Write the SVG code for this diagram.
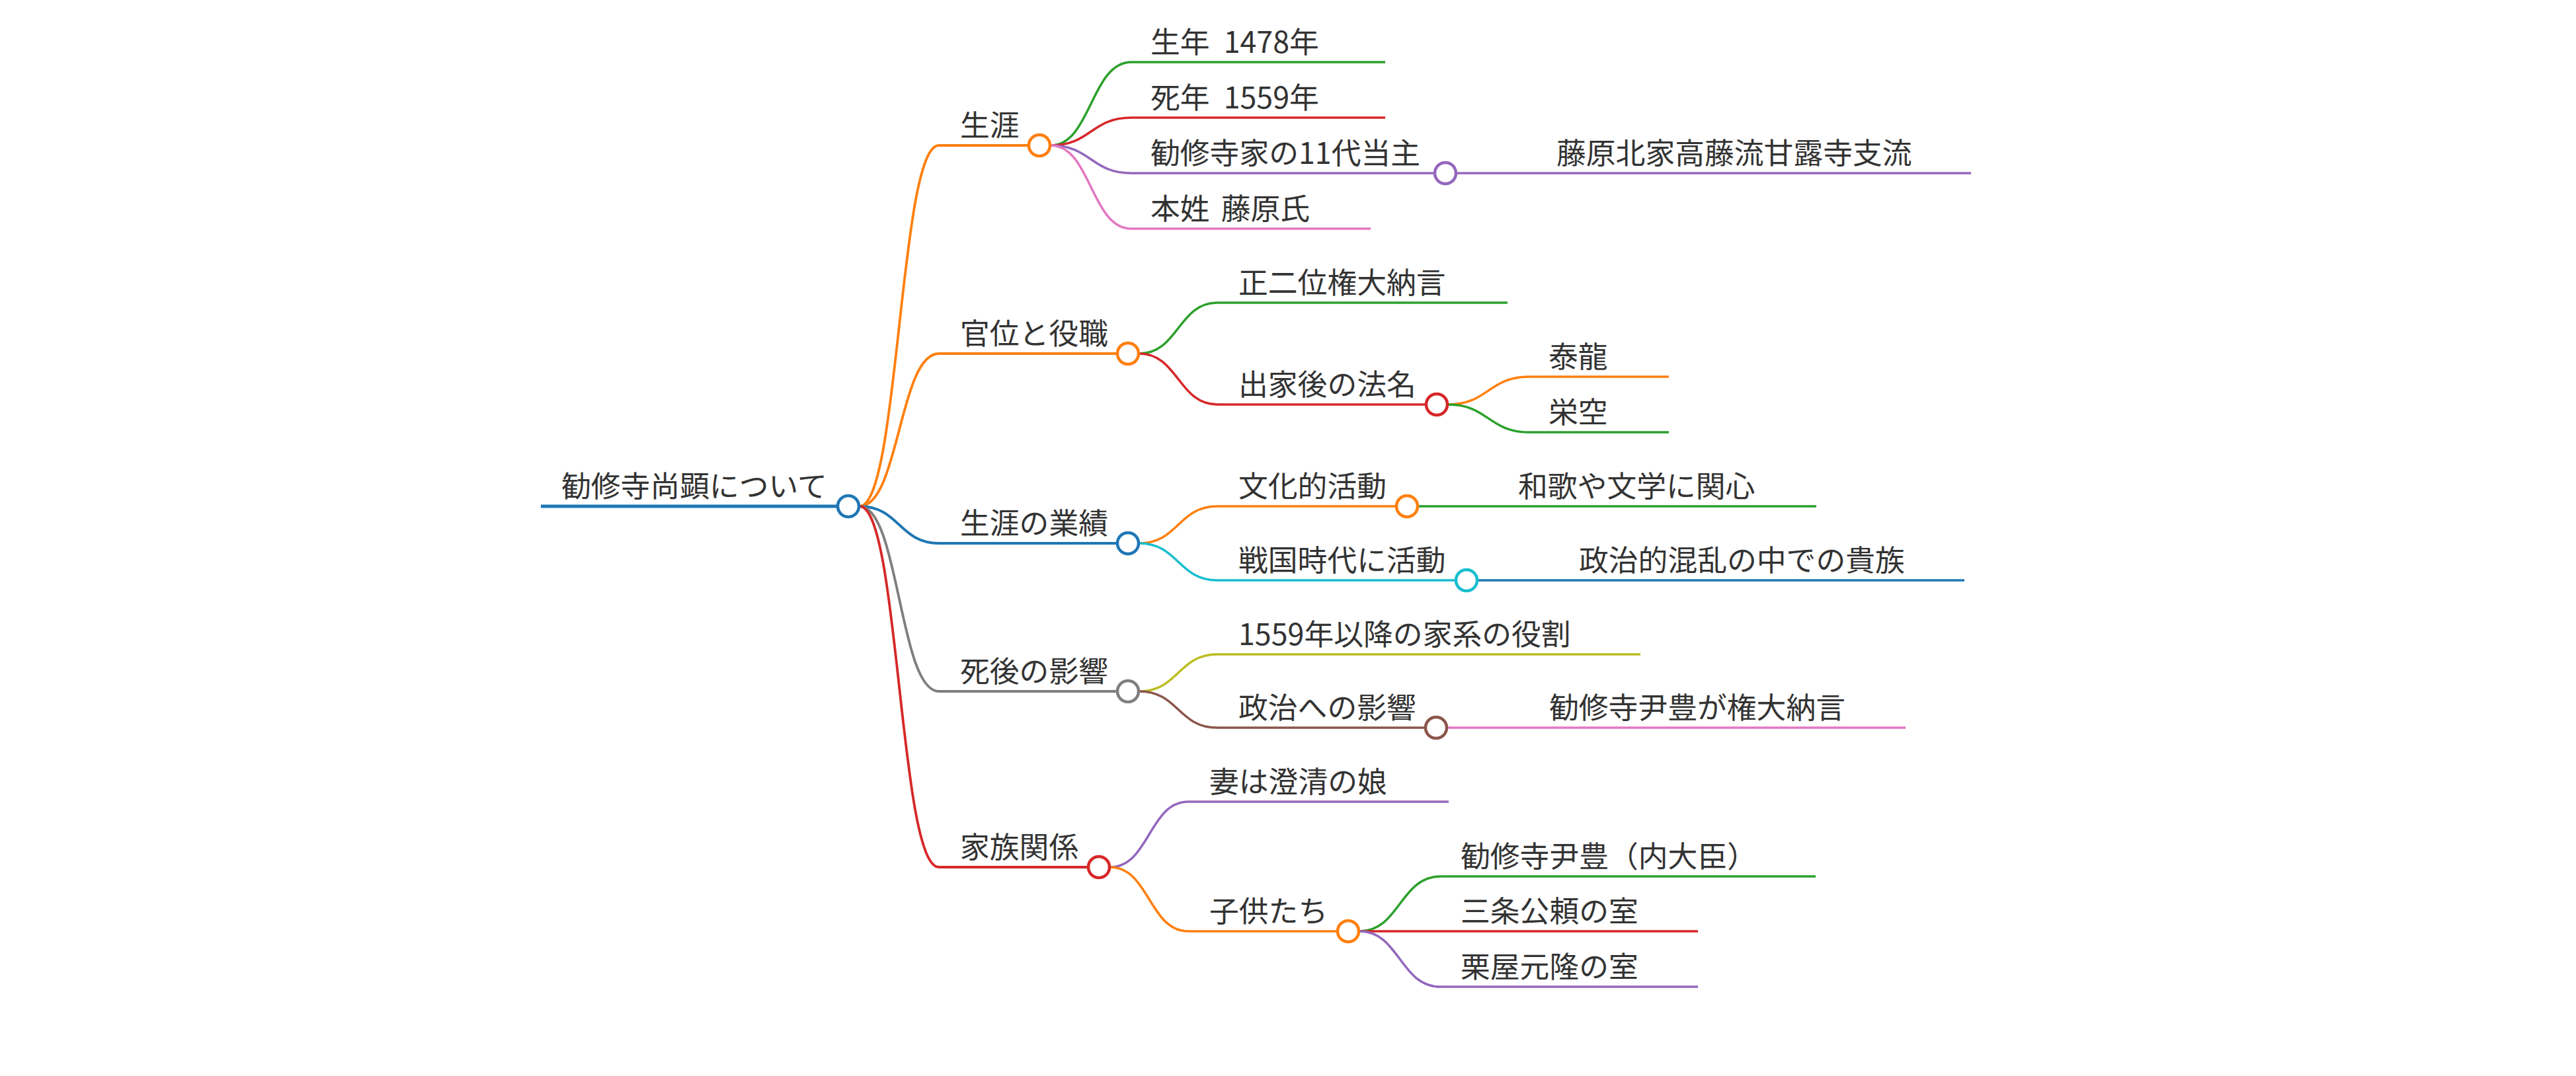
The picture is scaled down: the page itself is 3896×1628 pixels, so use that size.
<svg xmlns="http://www.w3.org/2000/svg" width="3896" height="1628" viewBox="0 0 3896 1628">
<style>
  text { font-family: "Noto Sans CJK JP", "Noto Sans", sans-serif; font-size: 44.8px; fill: #333333; }
  .ln { fill: none; stroke-linecap: butt; }
  .l0 { stroke-width: 5; }
  .l1 { stroke-width: 4; }
  .l2 { stroke-width: 3.5; }
  .lk { fill: none; stroke-width: 3.5; }
  .lk1 { fill: none; stroke-width: 3.8; }
  .c { fill: #ffffff; stroke-width: 4.5; }
  .blue { stroke: #1f77b4; }
  .orange { stroke: #ff7f0e; }
  .green { stroke: #2ca02c; }
  .red { stroke: #d62728; }
  .purple { stroke: #9467bd; }
  .brown { stroke: #8c564b; }
  .pink { stroke: #e377c2; }
  .gray { stroke: #7f7f7f; }
  .olive { stroke: #bcbd22; }
  .cyan { stroke: #17becf; }
</style>
<rect width="3896" height="1628" fill="#ffffff"/>
<g id="connectors">
  <path class="lk1 orange" d="M1300,766 C1360,766 1360,220 1420,220"/>
  <path class="lk1 orange" d="M1300,766 C1360,766 1360,535 1420,535"/>
  <path class="lk1 blue" d="M1300,766 C1360,766 1360,822 1420,822"/>
  <path class="lk1 gray" d="M1300,766 C1360,766 1360,1046 1420,1046"/>
  <path class="lk1 red" d="M1300,766 C1360,766 1360,1312 1420,1312"/>
  <path class="lk green" d="M1589,220 C1650,220 1650,94 1711,94"/>
  <path class="lk red" d="M1589,220 C1650,220 1650,178 1711,178"/>
  <path class="lk purple" d="M1589,220 C1650,220 1650,262 1711,262"/>
  <path class="lk pink" d="M1589,220 C1650,220 1650,346 1711,346"/>
  <path class="lk purple" d="M2203,262 L2321,262"/>
  <path class="lk green" d="M1723,535 C1782,535 1782,458 1841,458"/>
  <path class="lk red" d="M1723,535 C1782,535 1782,612 1841,612"/>
  <path class="lk orange" d="M2190,612 C2251,612 2251,570 2313,570"/>
  <path class="lk green" d="M2190,612 C2251,612 2251,654 2313,654"/>
  <path class="lk orange" d="M1723,822 C1782,822 1782,766 1841,766"/>
  <path class="lk cyan" d="M1723,822 C1782,822 1782,878 1841,878"/>
  <path class="lk green" d="M2145,766 L2267,766"/>
  <path class="lk blue" d="M2235,878 L2359,878"/>
  <path class="lk olive" d="M1723,1046 C1782,1046 1782,990 1841,990"/>
  <path class="lk brown" d="M1723,1046 C1782,1046 1782,1101 1841,1101"/>
  <path class="lk pink" d="M2189,1101 L2314,1101"/>
  <path class="lk purple" d="M1679,1312 C1738,1312 1738,1213 1797,1213"/>
  <path class="lk orange" d="M1679,1312 C1738,1312 1738,1409 1797,1409"/>
  <path class="lk green" d="M2056,1409 C2117,1409 2117,1326 2179,1326"/>
  <path class="lk red" d="M2056,1409 L2179,1409"/>
  <path class="lk purple" d="M2056,1409 C2117,1409 2117,1493 2179,1493"/>
</g>

<g id="node-root">
  <path class="ln l0 blue" d="M818,766 H1267"/>
  <circle class="c blue" cx="1283" cy="766" r="16"/>
  <text x="849" y="752">勧修寺尚顕について</text>
</g>

<g id="node-shougai">
  <path class="ln l1 orange" d="M1420,220 H1556"/>
  <circle class="c orange" cx="1572" cy="220" r="16"/>
  <text x="1452" y="206">生涯</text>
</g>
<g id="node-seinen">
  <path class="ln l2 green" d="M1711,94 H2095"/>
  <text x="1740" y="80">生年 <tspan dx="11">1478年</tspan></text>
</g>
<g id="node-botsunen">
  <path class="ln l2 red" d="M1711,178 H2095"/>
  <text x="1740" y="164">死年 <tspan dx="11">1559年</tspan></text>
</g>
<g id="node-toushu">
  <path class="ln l2 purple" d="M1711,262 H2170"/>
  <circle class="c purple" cx="2186" cy="262" r="16"/>
  <text x="1740" y="248">勧修寺家の11代当主</text>
</g>
<g id="node-fujiwara-hokke">
  <path class="ln l2 purple" d="M2321,262 H2981"/>
  <text x="2354" y="248">藤原北家高藤流甘露寺支流</text>
</g>
<g id="node-honsei">
  <path class="ln l2 pink" d="M1711,346 H2073"/>
  <text x="1740" y="332">本姓 <tspan dx="7">藤原氏</tspan></text>
</g>

<g id="node-kan-i">
  <path class="ln l1 orange" d="M1420,535 H1690"/>
  <circle class="c orange" cx="1706" cy="535" r="16"/>
  <text x="1452" y="521">官位と役職</text>
</g>
<g id="node-shonii">
  <path class="ln l2 green" d="M1841,458 H2280"/>
  <text x="1873" y="444">正二位権大納言</text>
</g>
<g id="node-houmyou">
  <path class="ln l2 red" d="M1841,612 H2157"/>
  <circle class="c red" cx="2173" cy="612" r="16"/>
  <text x="1873" y="598">出家後の法名</text>
</g>
<g id="node-tairyu">
  <path class="ln l2 orange" d="M2313,570 H2524"/>
  <text x="2342" y="556">泰龍</text>
</g>
<g id="node-eikuu">
  <path class="ln l2 green" d="M2313,654 H2524"/>
  <text x="2342" y="640">栄空</text>
</g>

<g id="node-gyouseki">
  <path class="ln l1 blue" d="M1420,822 H1690"/>
  <circle class="c blue" cx="1706" cy="822" r="16"/>
  <text x="1452" y="808">生涯の業績</text>
</g>
<g id="node-bunka">
  <path class="ln l2 orange" d="M1841,766 H2112"/>
  <circle class="c orange" cx="2128" cy="766" r="16"/>
  <text x="1873" y="752">文化的活動</text>
</g>
<g id="node-waka">
  <path class="ln l2 green" d="M2267,766 H2747"/>
  <text x="2296" y="752">和歌や文学に関心</text>
</g>
<g id="node-sengoku">
  <path class="ln l2 cyan" d="M1841,878 H2202"/>
  <circle class="c cyan" cx="2218" cy="878" r="16"/>
  <text x="1873" y="864">戦国時代に活動</text>
</g>
<g id="node-kizoku">
  <path class="ln l2 blue" d="M2359,878 H2971"/>
  <text x="2388" y="864">政治的混乱の中での貴族</text>
</g>

<g id="node-shigo">
  <path class="ln l1 gray" d="M1420,1046 H1690"/>
  <circle class="c gray" cx="1706" cy="1046" r="16"/>
  <text x="1452" y="1032">死後の影響</text>
</g>
<g id="node-kakei">
  <path class="ln l2 olive" d="M1841,990 H2481"/>
  <text x="1873" y="976">1559年以降の家系の役割</text>
</g>
<g id="node-seiji">
  <path class="ln l2 brown" d="M1841,1101 H2156"/>
  <circle class="c brown" cx="2172" cy="1101" r="16"/>
  <text x="1873" y="1087">政治への影響</text>
</g>
<g id="node-tadatoyo-gon">
  <path class="ln l2 pink" d="M2314,1101 H2882"/>
  <text x="2343" y="1087">勧修寺尹豊が権大納言</text>
</g>

<g id="node-kazoku">
  <path class="ln l1 red" d="M1420,1312 H1646"/>
  <circle class="c red" cx="1662" cy="1312" r="16"/>
  <text x="1452" y="1298">家族関係</text>
</g>
<g id="node-tsuma">
  <path class="ln l2 purple" d="M1797,1213 H2191"/>
  <text x="1829" y="1199">妻は澄清の娘</text>
</g>
<g id="node-kodomo">
  <path class="ln l2 orange" d="M1797,1409 H2023"/>
  <circle class="c orange" cx="2039" cy="1409" r="16"/>
  <text x="1829" y="1395">子供たち</text>
</g>
<g id="node-tadatoyo">
  <path class="ln l2 green" d="M2179,1326 H2746"/>
  <text x="2209" y="1312">勧修寺尹豊（内大臣）</text>
</g>
<g id="node-sanjou">
  <path class="ln l2 red" d="M2179,1409 H2568"/>
  <text x="2209" y="1395">三条公頼の室</text>
</g>
<g id="node-kuriya">
  <path class="ln l2 purple" d="M2179,1493 H2568"/>
  <text x="2209" y="1479">栗屋元隆の室</text>
</g>
</svg>
